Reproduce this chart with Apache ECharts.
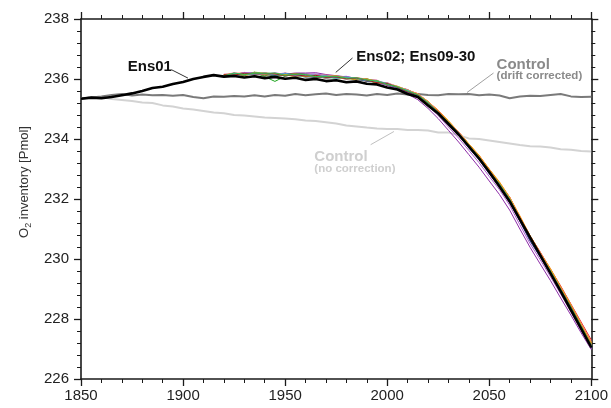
<!DOCTYPE html>
<html>
<head>
<meta charset="utf-8">
<script src="https://cdn.jsdelivr.net/npm/echarts@6/dist/echarts.min.js"></script>
<style>html,body{margin:0;padding:0;background:#fff}#c{width:611px;height:408px}</style>
</head>
<body>
<div id="c"></div>
<script>
// ---- Data ----
const yearsFull = [1850,1855,1860,1865,1870,1875,1880,1885,1890,1895,1900,1905,1910,1915,1920,1925,1930,1935,1940,1945,1950,1955,1960,1965,1970,1975,1980,1985,1990,1995,2000,2005,2010,2015,2020,2025,2030,2035,2040,2045,2050,2055,2060,2065,2070,2075,2080,2085,2090,2095,2100];
const yearsEns = [1920,1925,1930,1935,1940,1945,1950,1955,1960,1965,1970,1975,1980,1985,1990,1995,2000,2005,2010,2015,2020,2025,2030,2035,2040,2045,2050,2055,2060,2065,2070,2075,2080,2085,2090,2095,2100];

const controlNoCorrection = [235.35,235.38,235.40,235.33,235.30,235.27,235.22,235.20,235.12,235.08,235.02,234.98,234.93,234.88,234.86,234.80,234.78,234.75,234.72,234.70,234.68,234.66,234.62,234.60,234.56,234.52,234.45,234.42,234.38,234.35,234.33,234.33,234.30,234.30,234.28,234.22,234.22,234.12,234.02,234.00,233.95,233.90,233.85,233.80,233.76,233.75,233.72,233.66,233.64,233.60,233.58];
const controlDriftCorrected = [235.35,235.38,235.42,235.47,235.50,235.45,235.48,235.46,235.47,235.44,235.47,235.40,235.36,235.42,235.41,235.43,235.42,235.46,235.42,235.47,235.44,235.50,235.46,235.49,235.52,235.47,235.50,235.48,235.45,235.50,235.47,235.52,235.48,235.50,235.47,235.46,235.50,235.49,235.50,235.46,235.48,235.45,235.36,235.42,235.44,235.43,235.47,235.50,235.42,235.40,235.41];
const ens01 = [235.34,235.38,235.36,235.40,235.46,235.52,235.60,235.70,235.74,235.83,235.90,236.00,236.07,236.13,236.08,236.10,236.05,236.09,236.03,236.07,236.01,236.04,235.97,236.00,235.93,235.96,235.89,235.92,235.84,235.82,235.72,235.65,235.50,235.40,235.12,234.85,234.50,234.15,233.75,233.35,232.90,232.42,231.92,231.32,230.72,230.12,229.52,228.92,228.30,227.68,227.05];

const ens02 = [236.14,236.13,236.21,236.15,236.20,236.09,236.20,236.11,236.13,236.05,236.12,236.05,236.00,236.04,235.94,235.95,235.79,235.75,235.60,235.51,235.22,234.94,234.57,234.23,233.82,233.44,232.98,232.52,232.06,231.40,230.77,230.23,229.66,229.10,228.50,227.90,227.30];
const ens09 = [236.08,236.18,236.13,236.22,236.08,235.92,236.09,236.18,236.18,236.12,236.13,236.03,236.07,235.97,235.98,235.85,235.86,235.70,235.64,235.43,235.22,234.86,234.56,234.15,233.80,233.36,232.96,232.46,231.99,231.37,230.67,230.15,229.59,228.96,228.41,227.73,227.12];
const ens10 = [236.12,236.14,236.19,236.22,236.16,236.20,236.16,236.20,236.20,236.21,236.15,236.11,236.07,236.03,235.96,235.88,235.79,235.66,235.50,235.31,235.02,234.68,234.29,233.90,233.48,233.06,232.60,232.15,231.63,231.00,230.39,229.83,229.28,228.70,228.13,227.54,226.98];
const ens11 = [236.15,236.15,236.18,236.13,236.19,236.15,236.11,236.16,236.08,236.10,236.04,236.09,236.02,236.02,235.99,235.89,235.85,235.76,235.63,235.51,235.24,234.96,234.59,234.24,233.83,233.45,232.99,232.53,232.05,231.40,230.77,230.20,229.64,229.06,228.45,227.80,227.18];
const ens12 = [236.10,236.19,236.12,236.18,236.14,236.18,236.13,236.09,236.12,236.04,236.08,236.08,236.01,235.99,236.00,235.92,235.82,235.69,235.61,235.44,235.21,234.93,234.56,234.22,233.83,233.42,232.99,232.53,232.02,231.40,230.76,230.18,229.66,229.04,228.43,227.81,227.14];
const ens13 = [236.13,236.11,236.17,236.14,236.21,236.12,236.17,236.13,236.06,236.13,236.05,236.06,236.08,235.98,235.93,235.93,235.84,235.70,235.56,235.45,235.17,234.88,234.50,234.15,233.73,233.34,232.87,232.43,231.91,231.28,230.64,230.09,229.52,228.93,228.34,227.68,227.05];
const ens14 = [236.11,236.20,236.14,236.19,236.12,236.17,236.19,236.10,236.11,236.15,236.06,236.02,236.05,236.05,235.95,235.91,235.87,235.74,235.58,235.48,235.19,234.91,234.52,234.19,233.77,233.40,232.91,232.49,231.97,231.36,230.68,230.13,229.60,228.97,228.39,227.72,227.11];
const ens15 = [236.16,236.16,236.21,236.14,236.18,236.19,236.10,236.15,236.16,236.07,236.11,236.11,236.05,235.97,235.99,235.96,235.81,235.73,235.65,235.45,235.23,234.88,234.55,234.21,233.76,233.39,232.95,232.45,232.00,231.34,230.66,230.15,229.57,228.99,228.36,227.76,227.10];
const ens16 = [236.09,236.18,236.11,236.20,236.17,236.10,236.16,236.10,236.14,236.09,236.02,236.07,236.06,236.01,235.92,235.92,235.80,235.74,235.61,235.42,235.18,234.91,234.53,234.16,233.79,233.37,232.90,232.48,231.96,231.35,230.67,230.12,229.59,228.96,228.38,227.73,227.08];
const ens17 = [236.14,236.21,236.16,236.21,236.13,236.16,236.20,236.16,236.09,236.12,236.12,236.03,236.04,236.04,235.98,235.88,235.88,235.75,235.62,235.50,235.25,234.93,234.58,234.24,233.81,233.43,232.97,232.54,232.03,231.41,230.74,230.19,229.62,229.03,228.44,227.79,227.14];
const ens18 = [236.07,236.17,236.19,236.15,236.18,236.13,236.11,236.14,236.13,236.06,236.08,236.07,235.99,236.02,235.97,235.87,235.83,235.73,235.57,235.46,235.18,234.89,234.55,234.18,233.76,233.38,232.94,232.47,231.98,231.32,230.70,230.12,229.58,228.99,228.36,227.75,227.10];
const ens19 = [236.13,236.14,236.20,236.18,236.11,236.17,236.15,236.08,236.15,236.11,236.05,236.09,236.04,235.98,236.01,235.90,235.85,235.71,235.63,235.48,235.20,234.92,234.55,234.17,233.80,233.39,232.93,232.50,231.99,231.33,230.71,230.14,229.57,229.00,228.39,227.74,227.12];
const ens20 = [236.12,236.19,236.14,236.22,236.18,236.11,236.18,236.17,236.08,236.05,236.10,236.04,236.05,236.03,235.93,235.93,235.81,235.69,235.55,235.43,235.14,234.85,234.47,234.12,233.70,233.31,232.84,232.40,231.88,231.26,230.60,230.06,229.50,228.89,228.31,227.66,227.04];
const ens21 = [236.15,236.12,236.18,236.20,236.15,236.18,236.12,236.13,236.14,236.14,236.03,236.08,236.08,236.00,235.98,235.94,235.84,235.75,235.64,235.47,235.23,234.92,234.58,234.20,233.81,233.39,232.96,232.50,232.02,231.37,230.71,230.17,229.61,229.00,228.42,227.77,227.15];
const ens22 = [236.10,236.17,236.13,236.23,236.19,236.15,236.12,236.15,236.07,236.10,236.10,236.01,236.02,236.03,235.97,235.95,235.82,235.74,235.61,235.49,235.21,234.93,234.56,234.22,233.81,233.40,232.97,232.51,232.00,231.39,230.73,230.16,229.63,229.02,228.41,227.79,227.16];
const ens23 = [236.13,236.18,236.20,236.14,236.21,236.12,236.15,236.17,236.12,236.07,236.09,236.10,236.02,236.01,235.98,235.86,235.86,235.73,235.64,235.49,235.26,234.94,234.61,234.23,233.84,233.46,233.00,232.57,232.06,231.44,230.78,230.21,229.68,229.07,228.48,227.85,227.22];
const ens24 = [236.11,236.14,236.22,236.19,236.14,236.19,236.17,236.11,236.17,236.17,236.11,236.07,236.09,236.01,235.99,235.89,235.81,235.68,235.54,235.38,235.10,234.78,234.40,234.03,233.62,233.21,232.75,232.31,231.79,231.14,230.51,229.97,229.41,228.83,228.24,227.62,227.00];
const ens25 = [236.14,236.15,236.14,236.21,236.17,236.11,236.16,236.15,236.09,236.11,236.05,236.06,236.06,235.98,235.97,235.93,235.82,235.72,235.62,235.45,235.21,234.90,234.56,234.17,233.79,233.36,232.93,232.49,231.97,231.36,230.69,230.12,229.59,228.98,228.37,227.76,227.10];
const ens26 = [236.12,236.20,236.17,236.16,236.21,236.16,236.14,236.09,236.14,236.11,236.13,236.08,236.01,236.05,235.99,235.91,235.87,235.74,235.63,235.51,235.24,234.95,234.57,234.24,233.82,233.43,232.99,232.52,232.05,231.39,230.75,230.21,229.65,229.06,228.48,227.86,227.25];
const ens27 = [236.15,236.17,236.15,236.20,236.16,236.18,236.15,236.15,236.08,236.13,236.07,236.10,236.04,235.97,236.00,235.92,235.83,235.75,235.61,235.48,235.23,234.91,234.58,234.21,233.83,233.42,232.98,232.54,232.03,231.38,230.75,230.18,229.65,229.04,228.46,227.81,227.19];
const ens28 = [236.11,236.18,236.18,236.15,236.20,236.13,236.19,236.12,236.12,236.10,236.11,236.02,236.06,236.02,235.94,235.92,235.86,235.71,235.62,235.46,235.22,234.89,234.55,234.20,233.78,233.39,232.92,232.50,231.98,231.35,230.68,230.15,229.58,228.99,228.38,227.73,227.11];
const ens29 = [236.14,236.13,236.19,236.17,236.18,236.17,236.11,236.14,236.10,236.12,236.06,236.07,236.01,236.03,235.96,235.88,235.85,235.72,235.58,235.47,235.19,234.91,234.53,234.18,233.79,233.37,232.94,232.48,231.97,231.35,230.69,230.14,229.57,228.98,228.40,227.75,227.13];
const ens30 = [236.10,236.20,236.15,236.19,236.19,236.20,236.12,236.16,236.15,236.08,236.09,236.09,236.03,236.04,235.97,235.93,235.82,235.74,235.60,235.48,235.21,234.89,234.56,234.18,233.79,233.40,232.92,232.49,232.00,231.34,230.70,230.12,229.60,228.98,228.39,227.76,227.11];

const members = [ens02,ens09,ens10,ens11,ens12,ens13,ens14,ens15,ens16,ens17,ens18,ens19,ens20,ens21,ens22,ens23,ens24,ens25,ens26,ens27,ens28,ens29,ens30];
const memberNames = ['Ens02','Ens09','Ens10','Ens11','Ens12','Ens13','Ens14','Ens15','Ens16','Ens17','Ens18','Ens19','Ens20','Ens21','Ens22','Ens23','Ens24','Ens25','Ens26','Ens27','Ens28','Ens29','Ens30'];
const memberColors = ['#e41a1c','#1aa31a','#8e2ca8','#f07f00','#f2dc2c','#3a5fcd','#36b6c9','#e040a0','#9a5a22','#f49ac1','#8c8c8c','#6b8e23','#1f2f7a','#7fb2ef','#9acd32','#ff8c00','#b05fd0','#2e8b7a','#fa8072','#d4a017','#4fa3e0','#a01a1a','#2fbf4f'];

const xTicks = [1850,1900,1950,2000,2050,2100];
const yTicks = [226,228,230,232,234,236,238];

// ---- Chart ----
const chart = echarts.init(document.getElementById('c'), null, {renderer:'canvas'});
const font = "'Liberation Sans', Arial, Helvetica, sans-serif";
const zip = (xs, ys) => xs.map((x,i)=>[x, ys[i]]);
const ink = '#1a1a1a';

function axis(o){
  return Object.assign({
    type:'value',
    axisLine:{show:true, lineStyle:{color:ink, width:1.6}},
    axisTick:{show:true, inside:false, length:7, lineStyle:{color:ink, width:1.3}},
    axisLabel:{show:false},
    splitLine:{show:false}
  }, o);
}
function minorAxis(o){
  return Object.assign({
    type:'value',
    axisLine:{show:false},
    axisTick:{show:true, inside:false, length:4, lineStyle:{color:ink, width:1}},
    axisLabel:{show:false},
    splitLine:{show:false}
  }, o);
}
const xMin = xTicks[0], xMax = xTicks[xTicks.length-1];
const yMin = yTicks[0], yMax = yTicks[yTicks.length-1];

const series = [];
series.push({name:'Control (no correction)', type:'line', data:zip(yearsFull, controlNoCorrection), showSymbol:false, symbol:'none', lineStyle:{color:'#d3d3d3', width:2}, z:1, animation:false});
series.push({name:'Control (drift corrected)', type:'line', data:zip(yearsFull, controlDriftCorrected), showSymbol:false, symbol:'none', lineStyle:{color:'#7a7a7a', width:2}, z:2, animation:false});
members.forEach((m,i)=>{
  series.push({name:memberNames[i], type:'line', data:zip(yearsEns, m), showSymbol:false, symbol:'none', lineStyle:{color:memberColors[i], width:1}, z:3, animation:false});
});
series.push({name:'Ens01', type:'line', data:zip(yearsFull, ens01), showSymbol:false, symbol:'none', lineStyle:{color:'#000', width:2.6}, z:5, animation:false});

chart.setOption({
  backgroundColor:'#fff',
  animation:false,
  grid:{left:81, right:18, top:19, bottom:29, containLabel:false},
  xAxis:[
    axis({min:xMin, max:xMax, interval:50, position:'bottom', axisLabel:{show:true, fontSize:15, color:'#222', fontFamily:font, margin:9, formatter:(v)=>String(v)}}),
    axis({min:xMin, max:xMax, interval:50, position:'top'}),
    minorAxis({min:xMin, max:xMax, interval:10, position:'bottom'}),
    minorAxis({min:xMin, max:xMax, interval:10, position:'top'})
  ],
  yAxis:[
    axis({min:yMin, max:yMax, interval:2, position:'left', axisLabel:{show:true, fontSize:15, color:'#222', fontFamily:font, margin:12},
      name:'{a|O}{b|2}{a| inventory [Pmol]}', nameLocation:'middle', nameRotate:90, nameGap:48,
      nameTextStyle:{fontFamily:font, color:'#333', fontSize:13, padding:[0,0,0,34], rich:{a:{fontSize:13, fontFamily:font, color:'#333', lineHeight:18}, b:{fontSize:9, fontFamily:font, color:'#333', lineHeight:18, verticalAlign:'bottom', padding:[8,0,0,0]}}}}),
    axis({min:yMin, max:yMax, interval:2, position:'right'}),
    minorAxis({min:yMin, max:yMax, interval:0.4, position:'left'}),
    minorAxis({min:yMin, max:yMax, interval:0.4, position:'right'})
  ],
  series: series
});

// ---- Annotations (anchored in data coordinates) ----
const labels = [
  {x:1872.9, y:236.39, text:'Ens01', size:15, color:'#111'},
  {x:1984.8, y:236.75, text:'Ens02; Ens09-30', size:15, color:'#111'},
  {x:2053.6, y:236.48, text:'Control', size:15, color:'#8a8a8a'},
  {x:2053.6, y:236.09, text:'(drift corrected)', size:11.5, color:'#8a8a8a'},
  {x:1964.3, y:233.39, text:'Control', size:15, color:'#cfcfcf'},
  {x:1964.3, y:233.00, text:'(no correction)', size:11.5, color:'#cfcfcf'}
];
const leaders = [
  {p:[[1894.3,236.31],[1902.4,236.03]], color:'#333'},
  {p:[[1983.0,236.70],[1974.8,236.22]], color:'#333'},
  {p:[[2052.1,236.20],[2039.1,235.55]], color:'#a0a0a0'},
  {p:[[1991.9,233.81],[2003.3,234.25]], color:'#c0c0c0'}
];
const px = (d) => chart.convertToPixel({xAxisIndex:0, yAxisIndex:0}, d);
const graphics = [];
labels.forEach(l=>{
  const p = px([l.x, l.y]);
  graphics.push({type:'text', x:p[0], y:p[1], z:10, style:{text:l.text, fill:l.color, font:'bold '+l.size+'px '+font, textAlign:'left', textVerticalAlign:'middle'}});
});
leaders.forEach(ld=>{
  const a = px(ld.p[0]), b = px(ld.p[1]);
  graphics.push({type:'line', z:10, shape:{x1:a[0], y1:a[1], x2:b[0], y2:b[1]}, style:{stroke:ld.color, lineWidth:1}});
});
chart.setOption({graphic:graphics});
</script>
</body>
</html>
